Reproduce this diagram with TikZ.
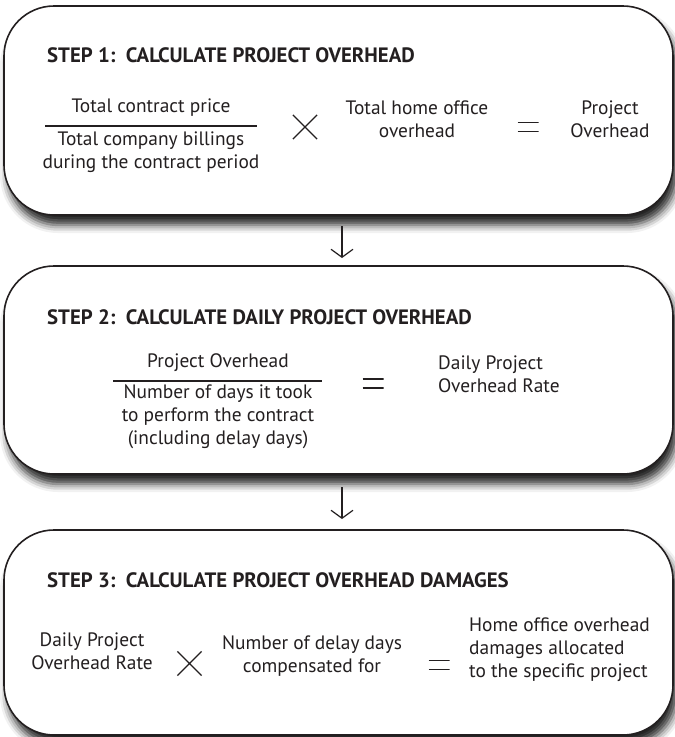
\documentclass[tikz,border=0pt]{standalone}
\usepackage{fontspec}
\setmainfont{PT Sans}
\usepackage{tikz}
\usetikzlibrary{positioning,arrows.meta,shadows.blur,shapes.misc}

\definecolor{inkgray}{HTML}{231F20}

\begin{document}
\begin{tikzpicture}[
  x=1pt, y=-1pt,
  stepbox/.style={draw=inkgray, line width=1.6pt, fill=white, rounded corners=50pt,
    minimum width=669pt, inner sep=0pt, outer sep=0pt,
    blur shadow={shadow xshift=4pt, shadow yshift=-10pt, shadow blur radius=8pt, shadow opacity=85}},
  title/.style={anchor=base west, inner sep=0pt, text=inkgray, font=\fontsize{20.8}{24}\selectfont\bfseries},
  txt/.style={align=center, inner sep=0pt, text=inkgray, font=\fontsize{19.4}{23}\selectfont},
  bar/.style={draw=inkgray, line width=1.4pt},
  times/.style={draw=inkgray, cross out, line width=1.2pt, minimum width=23pt, minimum height=23pt, inner sep=0pt},
  equals/.style={minimum width=21pt, minimum height=14pt, inner sep=0pt,
    path picture={\draw[inkgray, line width=1.4pt]
      ([yshift=4.5pt]path picture bounding box.west) -- ([yshift=4.5pt]path picture bounding box.east)
      ([yshift=-4.5pt]path picture bounding box.west) -- ([yshift=-4.5pt]path picture bounding box.east);}},
  arr/.style={draw=inkgray, line width=1.2pt, -{Straight Barb[length=8pt, width=22pt]}}
]
\useasboundingbox (0,0) rectangle (675,737);

% the three steps
\node[stepbox, minimum height=209pt] (step1) at (338.5,110.5) {};
\node[stepbox, minimum height=208pt, below=51pt of step1] (step2) {};
\node[stepbox, minimum height=205pt, below=56pt of step2] (step3) {};

\draw[arr, shorten <=11pt, shorten >=8pt] ([xshift=3.5pt]step1.south) -- ([xshift=3.5pt]step2.north);
\draw[arr, shorten <=13pt, shorten >=11pt] ([xshift=3.5pt]step2.south) -- ([xshift=3.5pt]step3.north);

% step 1
\node[title] (title1) at (47,62) {STEP 1:\ \ CALCULATE PROJECT OVERHEAD};
\node[txt] (num1) at (151,108) {Total contract price};
\draw[bar] (45,126) -- (257,126);
\node[txt] (den1) at (151,152) {Total company billings\\during the contract period};
\node[times] (mul1) at (305,127) {};
\node[txt] (hoo1) at (417,119) {Total home office\\overhead};
\node[equals] (eq1) at (528,127) {};
\node[txt] (res1) at (610,119) {Project\\Overhead};

% step 2
\node[title] (title2) at (47,324) {STEP 2:\ \ CALCULATE DAILY PROJECT OVERHEAD};
\node[txt] (num2) at (218,363) {Project Overhead};
\draw[bar] (113,381) -- (322,381);
\node[txt] (den2) at (218,417) {Number of days it took\\to perform the contract\\(including delay days)};
\node[equals] (eq2) at (373,383.5) {};
\node[txt, align=left, anchor=west] (res2) at (438,374) {Daily Project\\Overhead Rate};

% step 3
\node[title] (title3) at (47,587) {STEP 3:\ \ CALCULATE PROJECT OVERHEAD DAMAGES};
\node[txt] (rate3) at (92,651) {Daily Project\\Overhead Rate};
\node[times] (mul3) at (189.5,663.5) {};
\node[txt] (days3) at (312,656) {Number of delay days\\compensated for};
\node[equals] (eq3) at (439,665) {};
\node[txt, align=left, anchor=west] (res3) at (469,649.5) {Home office overhead\\damages allocated\\to the specific project};
\end{tikzpicture}
\end{document}
